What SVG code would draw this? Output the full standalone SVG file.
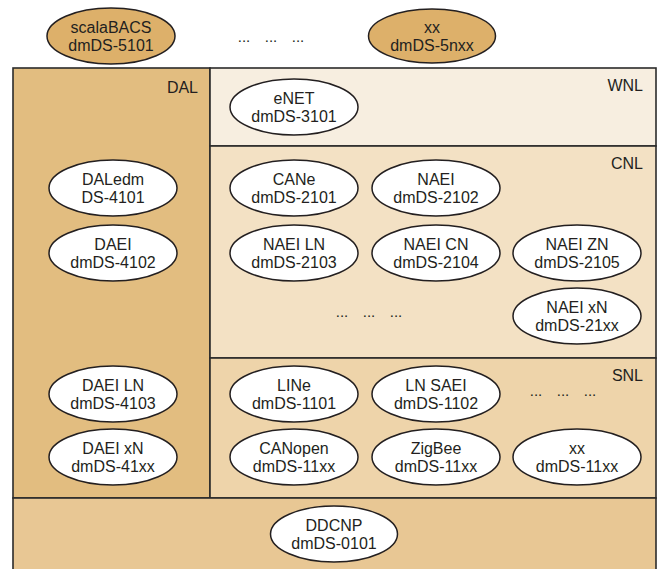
<svg xmlns="http://www.w3.org/2000/svg" width="660" height="569" viewBox="0 0 660 569">
<style>
.t{font-family:"Liberation Sans",Arial,sans-serif;font-size:16px;fill:#231f20;text-anchor:middle}
.lbl{font-family:"Liberation Sans",Arial,sans-serif;font-size:16px;fill:#231f20;text-anchor:end}
.dots{font-family:"Liberation Sans",Arial,sans-serif;font-size:15px;fill:#231f20;text-anchor:middle}
.box{stroke:#2b2b2b;stroke-width:1.6}
.e{fill:#ffffff;stroke:#231f20;stroke-width:1.5}
.eo{fill:#ddb06a;stroke:#231f20;stroke-width:1.5}
</style>
<rect width="660" height="569" fill="#ffffff"/>
<g id="layers">
<rect id="DAL" class="box" x="13" y="68" width="197" height="430" fill="#e2bd80"/>
<rect id="WNL" class="box" x="210" y="68" width="446" height="78" fill="#f7eee0"/>
<rect id="CNL" class="box" x="210" y="146" width="446" height="212" fill="#f3e1c4"/>
<rect id="SNL" class="box" x="210" y="358" width="446" height="140" fill="#eed4aa"/>
<rect id="BASE" class="box" x="13" y="498" width="643" height="80" fill="#e8c794"/>
<text class="lbl" x="198" y="93">DAL</text>
<text class="lbl" x="643" y="91">WNL</text>
<text class="lbl" x="643" y="169">CNL</text>
<text class="lbl" x="643" y="381">SNL</text>
</g>
<g id="connectors"></g>
<g id="n-scalaBACS"><ellipse class="eo" cx="111" cy="36" rx="64" ry="28"/><text class="t" x="111" y="33">scalaBACS</text><text class="t" x="111" y="50.5">dmDS-5101</text></g>
<g id="n-xx5"><ellipse class="eo" cx="432" cy="36" rx="63.5" ry="27"/><text class="t" x="432" y="33">xx</text><text class="t" x="432" y="50.5">dmDS-5nxx</text></g>
<g id="dots-top"><text class="dots" x="244" y="42">...</text><text class="dots" x="271" y="42">...</text><text class="dots" x="298" y="42">...</text></g>
<g id="n-eNET"><ellipse class="e" cx="294" cy="107" rx="64" ry="28"/><text class="t" x="294" y="104">eNET</text><text class="t" x="294" y="121.5">dmDS-3101</text></g>
<g id="n-DALedm"><ellipse class="e" cx="113" cy="188" rx="64" ry="28"/><text class="t" x="113" y="185">DALedm</text><text class="t" x="113" y="202.5">DS-4101</text></g>
<g id="n-DAEI"><ellipse class="e" cx="113" cy="253" rx="64" ry="28"/><text class="t" x="113" y="250">DAEI</text><text class="t" x="113" y="267.5">dmDS-4102</text></g>
<g id="n-DAEI-LN"><ellipse class="e" cx="113" cy="394" rx="64" ry="28"/><text class="t" x="113" y="391">DAEI LN</text><text class="t" x="113" y="408.5">dmDS-4103</text></g>
<g id="n-DAEI-xN"><ellipse class="e" cx="113" cy="457" rx="64" ry="28"/><text class="t" x="113" y="454">DAEI xN</text><text class="t" x="113" y="471.5">dmDS-41xx</text></g>
<g id="n-CANe"><ellipse class="e" cx="294" cy="188" rx="64" ry="28"/><text class="t" x="294" y="185">CANe</text><text class="t" x="294" y="202.5">dmDS-2101</text></g>
<g id="n-NAEI"><ellipse class="e" cx="436" cy="188" rx="64" ry="28"/><text class="t" x="436" y="185">NAEI</text><text class="t" x="436" y="202.5">dmDS-2102</text></g>
<g id="n-NAEI-LN"><ellipse class="e" cx="294" cy="253" rx="64" ry="28"/><text class="t" x="294" y="250">NAEI LN</text><text class="t" x="294" y="267.5">dmDS-2103</text></g>
<g id="n-NAEI-CN"><ellipse class="e" cx="436" cy="253" rx="64" ry="28"/><text class="t" x="436" y="250">NAEI CN</text><text class="t" x="436" y="267.5">dmDS-2104</text></g>
<g id="n-NAEI-ZN"><ellipse class="e" cx="577" cy="253" rx="64" ry="28"/><text class="t" x="577" y="250">NAEI ZN</text><text class="t" x="577" y="267.5">dmDS-2105</text></g>
<g id="n-NAEI-xN"><ellipse class="e" cx="577" cy="316" rx="64" ry="28"/><text class="t" x="577" y="313">NAEI xN</text><text class="t" x="577" y="330.5">dmDS-21xx</text></g>
<g id="dots-cnl"><text class="dots" x="342" y="317">...</text><text class="dots" x="369" y="317">...</text><text class="dots" x="396" y="317">...</text></g>
<g id="n-LINe"><ellipse class="e" cx="294" cy="394" rx="64" ry="28"/><text class="t" x="294" y="391">LINe</text><text class="t" x="294" y="408.5">dmDS-1101</text></g>
<g id="n-LN-SAEI"><ellipse class="e" cx="436" cy="394" rx="64" ry="28"/><text class="t" x="436" y="391">LN SAEI</text><text class="t" x="436" y="408.5">dmDS-1102</text></g>
<g id="dots-snl"><text class="dots" x="536" y="396">...</text><text class="dots" x="563" y="396">...</text><text class="dots" x="590" y="396">...</text></g>
<g id="n-CANopen"><ellipse class="e" cx="294" cy="457" rx="64" ry="28"/><text class="t" x="294" y="454">CANopen</text><text class="t" x="294" y="471.5">dmDS-11xx</text></g>
<g id="n-ZigBee"><ellipse class="e" cx="436" cy="457" rx="64" ry="28"/><text class="t" x="436" y="454">ZigBee</text><text class="t" x="436" y="471.5">dmDS-11xx</text></g>
<g id="n-xx11"><ellipse class="e" cx="577" cy="457" rx="64" ry="28"/><text class="t" x="577" y="454">xx</text><text class="t" x="577" y="471.5">dmDS-11xx</text></g>
<g id="n-DDCNP"><ellipse class="e" cx="334" cy="534" rx="63.5" ry="28"/><text class="t" x="334" y="531">DDCNP</text><text class="t" x="334" y="548.5">dmDS-0101</text></g>
</svg>
